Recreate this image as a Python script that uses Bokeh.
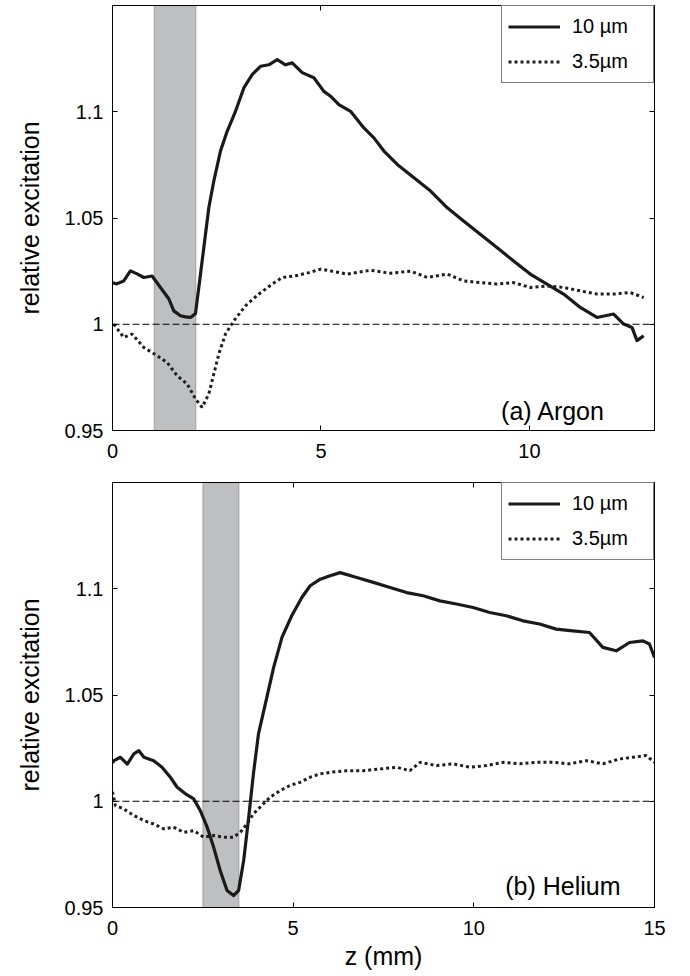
from bokeh.plotting import figure
from bokeh.models import (Range1d, LinearAxis, FixedTicker, CustomJSTickFormatter,
                          BoxAnnotation, Span, Label, Legend, LegendItem)
from bokeh.layouts import column
from bokeh.embed import file_html
from bokeh.resources import INLINE

# ---------------- data ----------------
# (a) Argon
argon_z_10 = [0.0, 0.1, 0.27, 0.43, 0.59, 0.75, 0.95, 1.05, 1.15, 1.35, 1.47, 1.63, 1.75, 1.87,
              1.99, 2.07, 2.19, 2.31, 2.43, 2.59, 2.75, 2.95, 3.15, 3.35, 3.55, 3.75, 3.95, 4.15,
              4.31, 4.55, 4.83, 5.07, 5.23, 5.43, 5.71, 6.03, 6.27, 6.51, 6.83, 7.23, 7.63, 8.03,
              8.42, 8.82, 9.22, 9.62, 10.02, 10.42, 10.82, 11.22, 11.62, 12.02, 12.26, 12.46,
              12.58, 12.74]
argon_y_10 = [1.0195, 1.0190, 1.0204, 1.0251, 1.0237, 1.0220, 1.0227, 1.0200, 1.0173, 1.0120,
              1.0063, 1.0040, 1.0035, 1.0032, 1.0050, 1.0173, 1.0360, 1.0548, 1.0674, 1.0815,
              1.0908, 1.1002, 1.1112, 1.1175, 1.1214, 1.1221, 1.1245, 1.1221, 1.1230, 1.1184,
              1.1160, 1.1096, 1.1073, 1.1034, 1.1002, 1.0924, 1.0877, 1.0815, 1.0752, 1.0689,
              1.0627, 1.0548, 1.0486, 1.0423, 1.0361, 1.0298, 1.0236, 1.0189, 1.0142, 1.0079,
              1.0032, 1.0048, 1.0001, 0.9985, 0.9923, 0.9946]
argon_z_35 = [0.03, 0.27, 0.47, 0.75, 1.07, 1.31, 1.55, 1.79, 1.99, 2.15, 2.31, 2.43, 2.55, 2.71,
              2.91, 3.19, 3.51, 3.83, 4.07, 4.39, 4.71, 4.99, 5.23, 5.63, 6.19, 6.67, 7.15, 7.55,
              8.03, 8.42, 8.82, 9.22, 9.62, 10.02, 10.42, 10.82, 11.22, 11.62, 12.02, 12.42, 12.74]
argon_y_35 = [1.0001, 0.9938, 0.9954, 0.9891, 0.9852, 0.9820, 0.9758, 0.9719, 0.9649, 0.9609,
              0.9672, 0.9766, 0.9860, 0.9954, 1.0016, 1.0087, 1.0142, 1.0189, 1.0220, 1.0228,
              1.0243, 1.0259, 1.0251, 1.0236, 1.0254, 1.0240, 1.0250, 1.0220, 1.0236, 1.0204,
              1.0196, 1.0189, 1.0196, 1.0173, 1.0180, 1.0173, 1.0157, 1.0142, 1.0142, 1.0149,
              1.0126]
argon_band = [1.0, 2.0]

# (b) Helium
helium_z_10 = [0.0, 0.04, 0.22, 0.41, 0.59, 0.73, 0.87, 1.14, 1.37, 1.6, 1.79, 2.02, 2.25, 2.43,
               2.62, 2.8, 2.98, 3.17, 3.35, 3.49, 3.63, 3.77, 3.9, 4.04, 4.23, 4.46, 4.69, 4.96,
               5.24, 5.47, 5.75, 6.02, 6.3, 6.76, 7.22, 7.68, 8.14, 8.6, 9.06, 9.52, 9.98, 10.44,
               10.9, 11.36, 11.82, 12.28, 12.74, 13.2, 13.57, 13.94, 14.31, 14.68, 14.86, 15.0]
helium_y_10 = [1.0180, 1.0191, 1.0207, 1.0175, 1.0223, 1.0238, 1.0207, 1.0191, 1.0160, 1.0113,
               1.0066, 1.0035, 1.0011, 0.9956, 0.9878, 0.9783, 0.9674, 0.9580, 0.9556, 0.9580,
               0.9721, 0.9925, 1.0129, 1.0317, 1.0458, 1.0630, 1.0771, 1.0873, 1.0959, 1.1014,
               1.1045, 1.1061, 1.1076, 1.1053, 1.1030, 1.1006, 1.0982, 1.0967, 1.0943, 1.0928,
               1.0912, 1.0888, 1.0873, 1.0849, 1.0834, 1.0810, 1.0802, 1.0794, 1.0724, 1.0708,
               1.0747, 1.0755, 1.0740, 1.0677]
helium_z_35 = [0.0, 0.08, 0.31, 0.59, 0.87, 1.14, 1.42, 1.69, 1.97, 2.25, 2.52, 2.8, 3.08, 3.35,
               3.54, 3.72, 3.9, 4.13, 4.36, 4.64, 4.91, 5.19, 5.47, 5.75, 6.02, 6.48, 6.94, 7.4,
               7.86, 8.23, 8.51, 8.97, 9.43, 9.89, 10.35, 10.81, 11.27, 11.73, 12.19, 12.65,
               13.11, 13.57, 14.03, 14.4, 14.77, 15.0]
helium_y_35 = [1.0045, 0.9980, 0.9964, 0.9933, 0.9909, 0.9893, 0.9870, 0.9878, 0.9854, 0.9862,
               0.9831, 0.9839, 0.9831, 0.9831, 0.9854, 0.9893, 0.9941, 0.9980, 1.0019, 1.0050,
               1.0074, 1.0089, 1.0113, 1.0129, 1.0136, 1.0144, 1.0144, 1.0152, 1.0160, 1.0144,
               1.0183, 1.0168, 1.0176, 1.0160, 1.0168, 1.0183, 1.0176, 1.0183, 1.0183, 1.0176,
               1.0191, 1.0176, 1.0199, 1.0207, 1.0215, 1.0183]
helium_band = [2.5, 3.5]

y_ticks = [0.95, 1.0, 1.05, 1.1]
argon_x_ticks = [0, 5, 10]
helium_x_ticks = [0, 5, 10, 15]
series_labels = ["10 µm", "3.5µm"]
panel_labels = ["(a) Argon", "(b) Helium"]

FONT = "Liberation Sans"
yfmt = CustomJSTickFormatter(code="""
    var s = tick.toFixed(2);
    s = s.replace(/0+$/, '').replace(/\\.$/, '');
    return s;
""")


def make_panel(z10, y10, z35, y35, band, xticks, xmax, label, label_xy,
               height, top_border, bottom_border, xlabel):
    p = figure(width=682, height=height, output_backend="svg", toolbar_location=None,
               x_range=Range1d(0, xmax), y_range=Range1d(0.95, 1.15),
               min_border_left=112, min_border_right=28,
               min_border_top=top_border, min_border_bottom=bottom_border)
    p.grid.visible = False
    p.outline_line_color = "black"
    p.outline_line_width = 1
    p.background_fill_color = "white"
    p.border_fill_color = "white"

    # shaded region
    box = BoxAnnotation(left=band[0], right=band[1], fill_color="#bdbfc1", fill_alpha=1.0,
                        line_color="#4d4d4d", line_width=1.2, level="underlay")
    p.add_layout(box)

    # reference line at 1
    p.add_layout(Span(location=1.0, dimension="width", line_color="black",
                      line_width=1, line_dash="7 3"))

    r1 = p.line(z10, y10, line_color="#1a1a1a", line_width=3.2, line_join="round")
    r2 = p.line(z35, y35, line_color="#1e1e1e", line_width=3, line_dash="3 3")

    # axes styling
    for ax in (p.xaxis[0], p.yaxis[0]):
        ax.major_tick_in = 5
        ax.major_tick_out = 0
        ax.minor_tick_in = 0
        ax.minor_tick_out = 0
        ax.axis_line_color = "black"
        ax.major_tick_line_color = "black"
        ax.major_label_text_font = FONT
        ax.major_label_text_font_size = "20px"
        ax.major_label_text_color = "black"
        ax.axis_label_text_font = FONT
        ax.axis_label_text_font_size = "25px"
        ax.axis_label_text_font_style = "normal"
        ax.axis_label_text_color = "black"
    p.xaxis[0].ticker = FixedTicker(ticks=xticks)
    p.yaxis[0].ticker = FixedTicker(ticks=y_ticks)
    p.yaxis[0].formatter = yfmt
    p.xaxis[0].major_label_standoff = 13
    p.yaxis[0].major_label_standoff = 9
    p.yaxis[0].axis_label = "relative excitation"
    p.yaxis[0].axis_label_standoff = 18
    if xlabel:
        p.xaxis[0].axis_label = xlabel
        p.xaxis[0].axis_label_standoff = 4

    # mirror ticks on top and right (no labels)
    blank = CustomJSTickFormatter(code="return '';")
    top = LinearAxis(ticker=FixedTicker(ticks=xticks), formatter=blank,
                     major_tick_in=5, major_tick_out=0, minor_tick_in=0, minor_tick_out=0,
                     major_label_standoff=0, axis_line_color="black")
    right = LinearAxis(ticker=FixedTicker(ticks=y_ticks), formatter=blank,
                       major_tick_in=5, major_tick_out=0, minor_tick_in=0, minor_tick_out=0,
                       major_label_standoff=0, axis_line_color="black")
    p.add_layout(top, "above")
    p.add_layout(right, "right")

    legend = Legend(items=[LegendItem(label=series_labels[0], renderers=[r1]),
                           LegendItem(label=series_labels[1], renderers=[r2])],
                    location="top_right", margin=0, padding=6, spacing=6,
                    glyph_width=52, glyph_height=29, label_standoff=12, label_width=75,
                    label_text_font=FONT, label_text_font_size="20px",
                    label_text_color="black", border_line_color="black",
                    border_line_width=1, background_fill_alpha=1.0)
    p.add_layout(legend)

    p.add_layout(Label(x=label_xy[0], y=label_xy[1], text=label, text_align="right",
                       text_baseline="alphabetic", text_font=FONT,
                       text_font_size="25px", text_color="black"))
    return p


p1 = make_panel(argon_z_10, argon_y_10, argon_z_35, argon_y_35, argon_band,
                argon_x_ticks, 13, panel_labels[0], (11.82, 0.9594),
                height=474, top_border=5, bottom_border=44, xlabel=None)
p2 = make_panel(helium_z_10, helium_y_10, helium_z_35, helium_y_35, helium_band,
                helium_x_ticks, 15, panel_labels[1], (14.06, 0.9603),
                height=501, top_border=8, bottom_border=68, xlabel="z (mm)")

layout = column(p1, p2, spacing=0)
open("out.html", "w").write(file_html(layout, INLINE))
